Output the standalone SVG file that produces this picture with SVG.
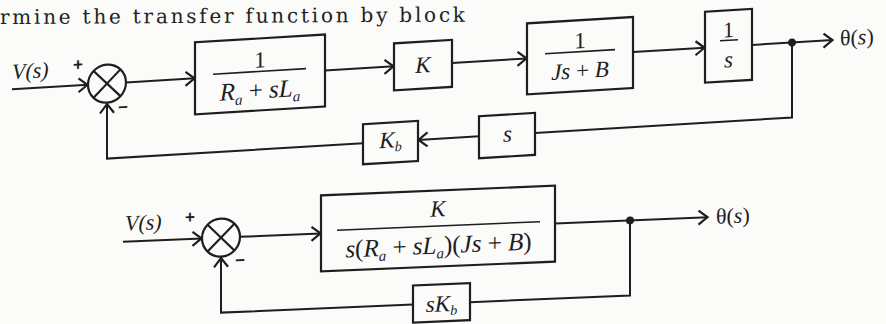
<svg xmlns="http://www.w3.org/2000/svg" width="886" height="324" viewBox="0 0 886 324">
<style>
.ln{stroke:#1e1e1e;stroke-width:2;fill:none}
.bx{stroke:#1e1e1e;stroke-width:2.2;fill:none}
.bar{stroke:#1e1e1e;stroke-width:1.6}
.t{font-family:"Liberation Serif","DejaVu Serif",serif;fill:#1e1e1e}
.h{font-family:"DejaVu Serif","Liberation Serif",serif;fill:#222}
.i{font-style:italic}
.n{font-style:normal}
.m{text-anchor:middle}
.sum{stroke:#1e1e1e;stroke-width:2.2;fill:none}
.sg{font-family:"Liberation Sans","DejaVu Sans",sans-serif;fill:#1e1e1e;text-anchor:middle;font-weight:bold}
</style>
<defs>
<marker id="ah" viewBox="-12 -9 14 18" markerWidth="14" markerHeight="18" refX="0.5" refY="0" orient="auto" markerUnits="userSpaceOnUse">
<path d="M-9,-7 L0,0 L-9,7" fill="none" stroke="#1e1e1e" stroke-width="2.2"/>
</marker>
</defs>
<rect width="886" height="324" fill="#fbfbf9"/>
<text class="h" x="0" y="24" font-size="20" textLength="465" lengthAdjust="spacing" transform="rotate(-0.3 0 24)">rmine the transfer function by block</text>

<g id="top" transform="translate(0,27) skewY(-3.434)">
  <g id="connectors-top">
    <line class="ln" x1="12" y1="63" x2="88" y2="63" marker-end="url(#ah)"/>
    <line class="ln" x1="126" y1="63" x2="195" y2="63" marker-end="url(#ah)"/>
    <line class="ln" x1="325" y1="63" x2="394" y2="63" marker-end="url(#ah)"/>
    <line class="ln" x1="452" y1="63" x2="527" y2="63" marker-end="url(#ah)"/>
    <line class="ln" x1="633" y1="63" x2="705" y2="63" marker-end="url(#ah)"/>
    <line class="ln" x1="752" y1="63" x2="833" y2="63" marker-end="url(#ah)"/>
    <polyline class="ln" points="792,63 792,138 535,138"/>
    <line class="ln" x1="479" y1="138" x2="418" y2="138" marker-end="url(#ah)"/>
    <polyline class="ln" points="363,138 107,138 107,83" marker-end="url(#ah)"/>
    <circle cx="792" cy="63" r="4" fill="#1e1e1e"/>
  </g>
  <g id="vin1"><text class="t i" x="12" y="53" font-size="22">V(s)</text></g>
  <g id="sum1">
    <circle class="sum" cx="107" cy="63" r="19"/>
    <line class="sum" x1="93.6" y1="49.6" x2="120.4" y2="76.4"/>
    <line class="sum" x1="120.4" y1="49.6" x2="93.6" y2="76.4"/>
    <text class="sg" x="78" y="48" font-size="17">+</text>
    <text class="sg" x="123" y="93" font-size="17">−</text>
  </g>
  <g id="g1">
    <rect class="bx" x="195" y="27" width="130" height="72"/>
    <text class="t m" x="260" y="56" font-size="23">1</text>
    <line class="bar" x1="213" y1="60" x2="306" y2="60"/>
    <text class="t i m" x="260" y="87" font-size="25">R<tspan font-size="15" dy="5">a</tspan><tspan class="n" dy="-5"> + </tspan>sL<tspan font-size="15" dy="5">a</tspan></text>
  </g>
  <g id="gK">
    <rect class="bx" x="394" y="40" width="58" height="47"/>
    <text class="t i m" x="423" y="71" font-size="23">K</text>
  </g>
  <g id="gJ">
    <rect class="bx" x="527" y="28" width="106" height="71"/>
    <text class="t m" x="580" y="56" font-size="23">1</text>
    <line class="bar" x1="545" y1="59.5" x2="615" y2="59.5"/>
    <text class="t i m" x="580" y="86" font-size="23">Js<tspan class="n"> + </tspan>B</text>
  </g>
  <g id="gInt">
    <rect class="bx" x="705" y="27" width="47" height="71"/>
    <text class="t m" x="728.5" y="54" font-size="22">1</text>
    <line class="bar" x1="720" y1="57" x2="738" y2="57"/>
    <text class="t i m" x="728.5" y="84" font-size="23">s</text>
  </g>
  <g id="out1"><text class="t" x="840" y="69" font-size="22">θ(<tspan class="i">s</tspan>)</text></g>
  <g id="gS">
    <rect class="bx" x="479" y="118" width="56" height="42"/>
    <text class="t i m" x="507.5" y="145" font-size="23">s</text>
  </g>
  <g id="gKb">
    <rect class="bx" x="363" y="119" width="55" height="40"/>
    <text class="t i m" x="390.5" y="144" font-size="23">K<tspan font-size="14" dy="4">b</tspan></text>
  </g>
</g>

<g id="bottom" transform="translate(0,18.9) skewY(-2.405)">
  <g id="connectors-bottom">
    <line class="ln" x1="123" y1="228" x2="202" y2="228" marker-end="url(#ah)"/>
    <line class="ln" x1="240" y1="228" x2="321" y2="228" marker-end="url(#ah)"/>
    <line class="ln" x1="555" y1="228" x2="708" y2="228" marker-end="url(#ah)"/>
    <polyline class="ln" points="630,228 630,303 470,303"/>
    <polyline class="ln" points="413,303 221,303 221,248" marker-end="url(#ah)"/>
    <circle cx="630" cy="228" r="4" fill="#1e1e1e"/>
  </g>
  <g id="vin2"><text class="t i" x="125" y="217" font-size="22">V(s)</text></g>
  <g id="sum2">
    <circle class="sum" cx="221" cy="228" r="19"/>
    <line class="sum" x1="207.6" y1="214.6" x2="234.4" y2="241.4"/>
    <line class="sum" x1="234.4" y1="214.6" x2="207.6" y2="241.4"/>
    <text class="sg" x="190" y="212" font-size="17">+</text>
    <text class="sg" x="240" y="257" font-size="17">−</text>
  </g>
  <g id="gTotal">
    <rect class="bx" x="321" y="190" width="234" height="76"/>
    <text class="t i m" x="438" y="216" font-size="23">K</text>
    <line class="bar" x1="337" y1="225.5" x2="540" y2="225.5"/>
    <text class="t i m" x="438.5" y="253" font-size="25">s<tspan class="n">(</tspan>R<tspan font-size="15" dy="5">a</tspan><tspan class="n" dy="-5"> + </tspan>sL<tspan font-size="15" dy="5">a</tspan><tspan class="n" dy="-5">)(</tspan>Js<tspan class="n"> + </tspan>B<tspan class="n">)</tspan></text>
  </g>
  <g id="out2"><text class="t" x="716" y="235" font-size="22">θ(<tspan class="i">s</tspan>)</text></g>
  <g id="gsKb">
    <rect class="bx" x="413" y="284" width="57" height="37"/>
    <text class="t i m" x="441.5" y="311" font-size="23">sK<tspan font-size="14" dy="4">b</tspan></text>
  </g>
</g>
</svg>
